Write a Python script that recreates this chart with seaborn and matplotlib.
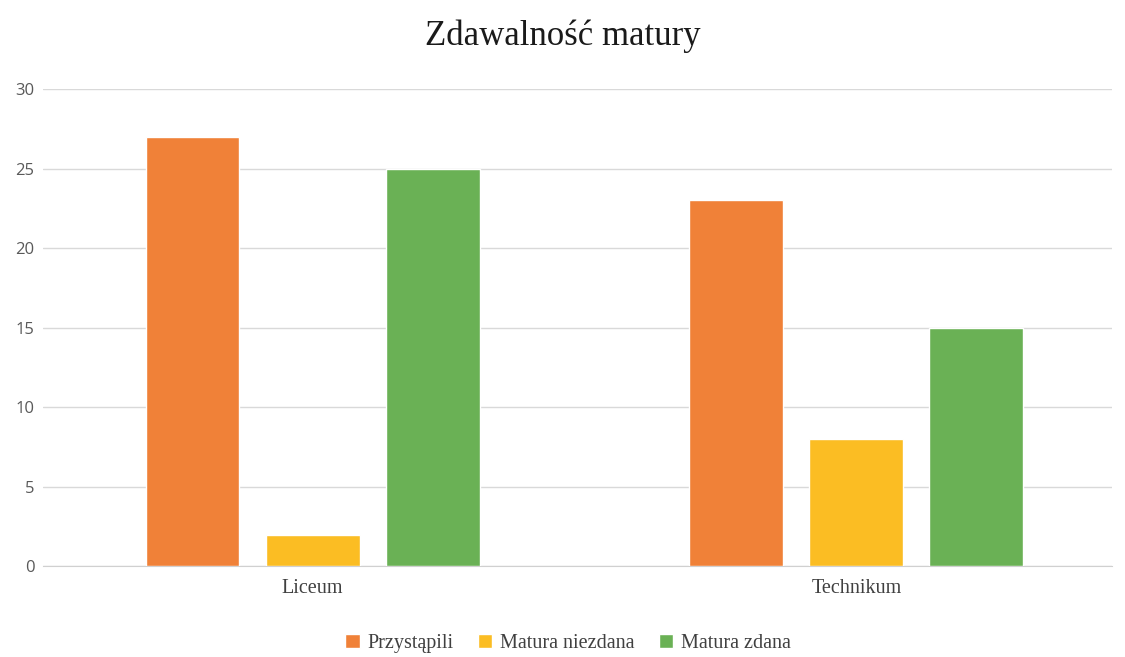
import seaborn as sns
import matplotlib.pyplot as plt
import pandas as pd

# dane z wykresu
szkoly = ["Liceum", "Technikum"]
serie = ["Przystąpili", "Matura niezdana", "Matura zdana"]
przystapili = [27, 23]
niezdana = [2, 8]
zdana = [25, 15]
kolory = ["#F08138", "#FBBD23", "#6AB155"]

df = pd.DataFrame({
    "szkola": szkoly * 3,
    "seria": [s for s in serie for _ in szkoly],
    "liczba": przystapili + niezdana + zdana,
})

sns.set_style("white")
fig = plt.figure(figsize=(11.25, 6.57), dpi=100)
ax = fig.add_axes([0.038, 0.138, 0.95, 0.7265])

sns.barplot(data=df, x="szkola", y="liczba", hue="seria", hue_order=serie,
            palette=kolory, width=0.662, gap=0.217, saturation=1,
            errorbar=None, ax=ax, zorder=3)

ax.set_ylim(0, 30)
ax.set_xlim(-0.496, 1.469)
ax.set_yticks(range(0, 31, 5))
ax.yaxis.grid(True, color="#d9d9d9", linewidth=1, zorder=0)
ax.set_axisbelow(True)
for s in ["top", "right", "left"]:
    ax.spines[s].set_visible(False)
ax.spines["bottom"].set_color("#d0d0d0")
ax.tick_params(axis="both", length=0)
ax.tick_params(axis="y", labelsize=12, labelcolor="#595959", pad=6)
ax.tick_params(axis="x", pad=9)
for lab in ax.get_yticklabels():
    lab.set_fontfamily("Open Sans")
for lab in ax.get_xticklabels():
    lab.set_fontfamily("Liberation Serif")
    lab.set_fontsize(14.5)
    lab.set_color("#404040")
ax.set_xlabel("")
ax.set_ylabel("")

fig.suptitle("Zdawalność matury", family="Liberation Serif", fontsize=25,
             color="#1a1a1a", y=0.97)

ax.legend_.remove()
h, l = ax.get_legend_handles_labels()
fig.legend(h, l, loc="lower center", bbox_to_anchor=(0.505, -0.022), ncol=3,
           frameon=False, handlelength=0.7, handleheight=0.7,
           handletextpad=0.4, columnspacing=1.2,
           prop={"family": "Liberation Serif", "size": 14.5})
for t in fig.legends[0].get_texts():
    t.set_color("#404040")

fig.savefig("out.png", dpi=100)
